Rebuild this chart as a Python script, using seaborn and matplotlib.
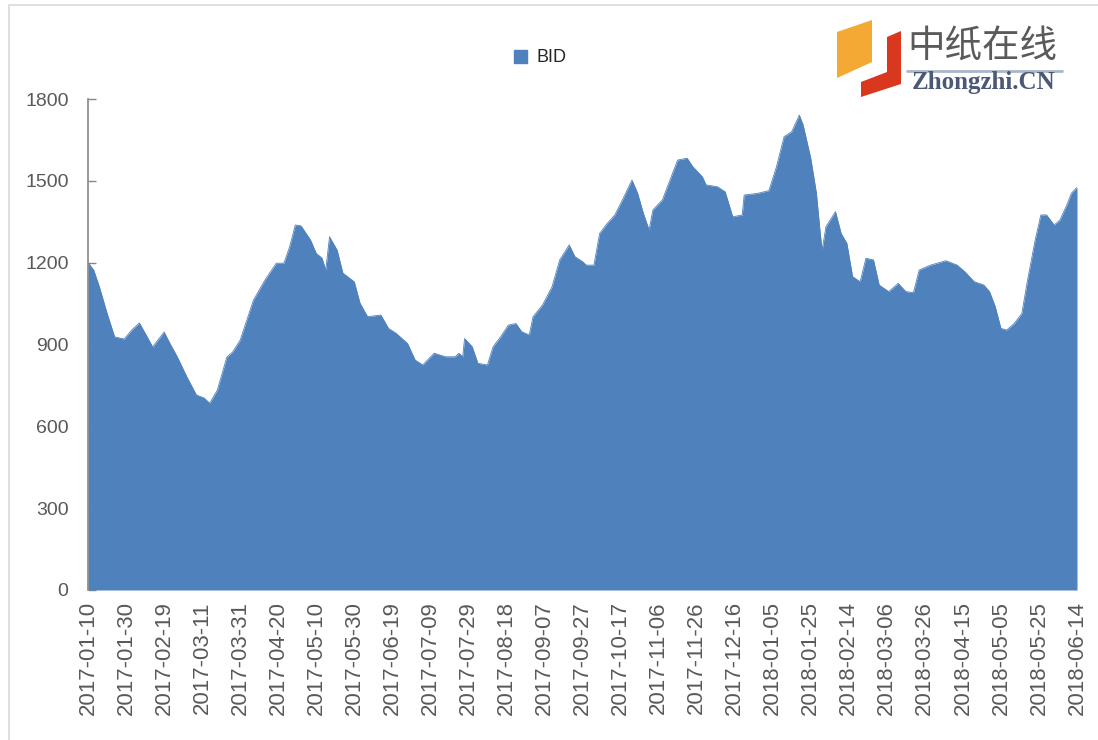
import numpy as np
import pandas as pd
import seaborn as sns
import matplotlib.pyplot as plt
from matplotlib.patches import Patch, Polygon, Rectangle
from matplotlib.lines import Line2D

# BID index (days after 2017-01-10, value)
start = "2017-01-10"
end = "2018-06-14"
day_offset = [0, 3, 6, 10, 14, 19, 23, 27, 30, 34, 40, 43, 47, 52, 57, 61, 64, 68,
              73, 76, 80, 83, 87, 93, 99, 103, 106, 109, 112, 117, 120, 123, 125,
              127, 131, 134, 140, 143, 147, 154, 158, 162, 168, 172, 176, 182, 188,
              193, 195, 197, 198, 202, 205, 210, 213, 217, 221, 225, 228, 232, 234,
              239, 244, 248, 253, 256, 260, 262, 266, 269, 273, 277, 281, 286, 289,
              292, 295, 297, 302, 306, 310, 315, 318, 323, 325, 331, 335, 339, 344,
              345, 352, 358, 362, 366, 370, 374, 376, 380, 383, 385, 386, 388, 393,
              396, 399, 402, 406, 409, 413, 416, 421, 426, 430, 434, 437, 443, 451,
              457, 461, 466, 471, 474, 477, 480, 483, 487, 491, 494, 498, 501, 504,
              508, 511, 515, 517, 520]
bid = [1200, 1173, 1111, 1015, 928, 920, 953, 979, 942, 891, 946, 905, 854, 781, 715,
       704, 685, 733, 854, 872, 916, 979, 1063, 1136, 1198, 1198, 1258, 1338, 1335,
       1283, 1234, 1217, 1173, 1295, 1246, 1162, 1130, 1052, 1002, 1008, 959, 941,
       904, 843, 825, 868, 855, 855, 868, 855, 922, 892, 831, 825, 892, 929, 971,
       977, 947, 935, 1002, 1045, 1112, 1210, 1265, 1222, 1204, 1191, 1191, 1307,
       1344, 1375, 1430, 1503, 1454, 1381, 1320, 1393, 1430, 1503, 1576, 1583, 1552,
       1515, 1485, 1478, 1460, 1368, 1375, 1448, 1454, 1464, 1552, 1662, 1680, 1741,
       1705, 1583, 1454, 1307, 1246, 1332, 1387, 1307, 1271, 1149, 1130, 1216, 1210,
       1118, 1094, 1124, 1094, 1090, 1173, 1191, 1207, 1191, 1167, 1130, 1118, 1094,
       1039, 959, 953, 977, 1014, 1136, 1283, 1375, 1375, 1338, 1356, 1417, 1454, 1476]
y_ticks = [0, 300, 600, 900, 1200, 1500, 1800]

df = pd.DataFrame({"date": pd.Timestamp(start) + pd.to_timedelta(day_offset, unit="D"),
                   "BID": bid})
tick_dates = pd.date_range(start, end, freq="20D")

blue = "#4F81BD"
grey = "#595959"

sns.set_theme(style="white")
plt.rcParams["font.family"] = ["Liberation Sans", "DejaVu Sans"]

fig = plt.figure(figsize=(10.98, 7.4), dpi=100)
ax = fig.add_axes([88 / 1098, 1 - 590 / 740, (1077 - 88) / 1098, (590 - 99) / 740])

sns.lineplot(data=df, x="date", y="BID", color=blue, lw=0.6, ax=ax)
ax.fill_between(df["date"], df["BID"], 0, color=blue, lw=0)

ax.set_xlim(pd.Timestamp(start), pd.Timestamp(end))
ax.set_ylim(0, 1800)
ax.set_yticks(y_ticks)
ax.set_xticks(tick_dates)
ax.set_xticklabels([d.strftime("%Y-%m-%d") for d in tick_dates], rotation=90,
                   fontsize=16, color=grey)
ax.tick_params(axis="y", labelsize=14, labelcolor=grey, direction="in",
               length=6, width=1, color="#868686", left=True, pad=14)
ax.tick_params(axis="x", length=0, pad=8)
ax.set_xlabel("")
ax.set_ylabel("")
for s in ["top", "right", "bottom"]:
    ax.spines[s].set_visible(False)
ax.spines["left"].set_color("#868686")
ax.spines["left"].set_linewidth(1.2)
ax.set_zorder(2)

fig.legend(handles=[Patch(color=blue, label="BID")], loc="center",
           bbox_to_anchor=(540 / 1098, 1 - 58 / 740), frameon=False,
           handlelength=0.75, handleheight=0.75, handletextpad=0.5, fontsize=13)

# outer frame
fig.patches.append(Rectangle((9 / 1098, -0.01), 1.0, 1 - 5 / 740 + 0.01,
                             transform=fig.transFigure, fill=False,
                             ec="#d9d9d9", lw=1.2))


def px(x, y):
    return (x / 1098, 1 - y / 740)


# logo
fig.patches.append(Polygon([px(837, 32), px(872, 20), px(872, 62), px(837, 78)],
                           closed=True, transform=fig.transFigure,
                           fc="#F4A934", ec="none"))
fig.patches.append(Polygon([px(887, 37), px(901, 31), px(901, 84), px(861, 97),
                            px(861, 82), px(887, 72)],
                           closed=True, transform=fig.transFigure,
                           fc="#D9381E", ec="none"))
fig.text(907 / 1098, 1 - 47 / 740, "中纸在线", fontsize=27, color="#5a5a5a",
         va="center", ha="left", family=["Noto Sans CJK SC", "DejaVu Sans"])
fig.lines.append(Line2D([907 / 1098, 1062 / 1098], [1 - 71 / 740, 1 - 71 / 740],
                        transform=fig.transFigure, color="#a9b6c8", lw=2))
fig.text(984 / 1098, 1 - 82 / 740, "Zhongzhi.CN", fontsize=18, color="#4b5878",
         va="center", ha="center", family=["Liberation Serif"], fontweight="bold")

fig.savefig("out.png", dpi=100, facecolor="white")
